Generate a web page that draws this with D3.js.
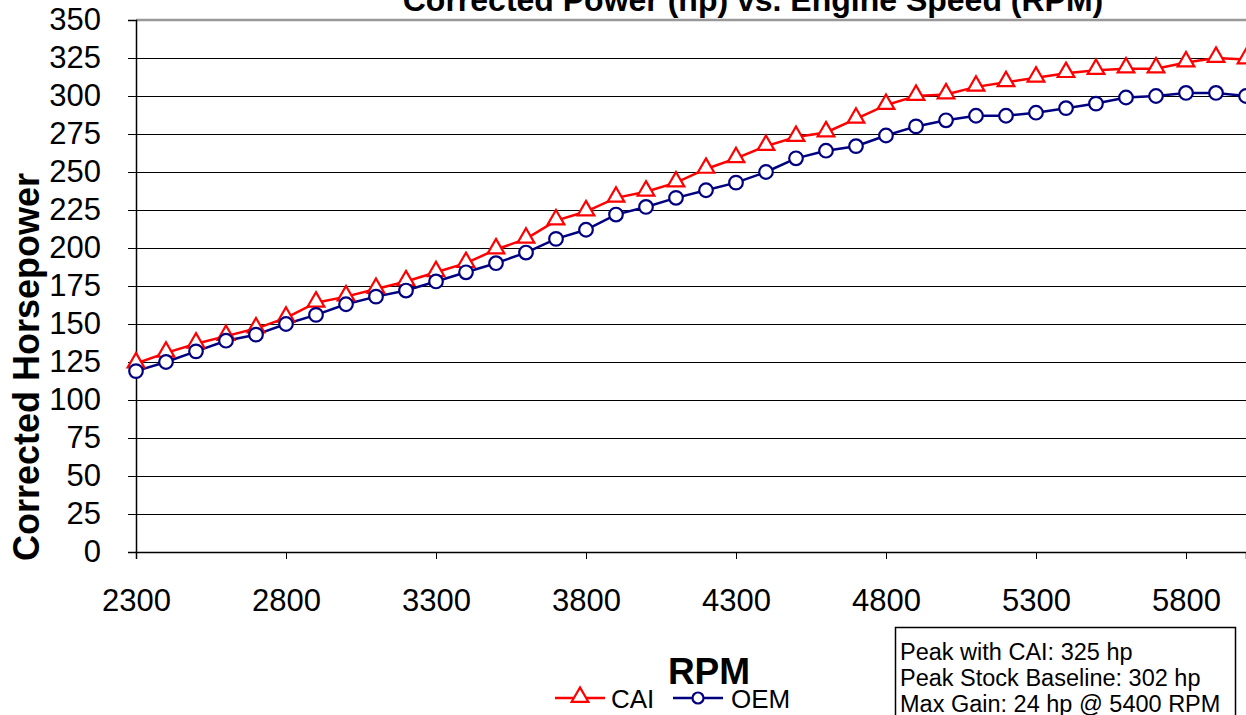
<!DOCTYPE html>
<html><head><meta charset="utf-8">
<script src="https://cdn.jsdelivr.net/npm/d3@7"></script>
<style>body{margin:0;background:#fff;} svg{display:block;font-family:"Liberation Sans",Arial,sans-serif;}</style>
</head><body>
<svg id="c" width="1246" height="715"></svg>
<script>
const rpm = [2300,2400,2500,2600,2700,2800,2900,3000,3100,3200,3300,3400,3500,3600,3700,3800,3900,4000,4100,4200,4300,4400,4500,4600,4700,4800,4900,5000,5100,5200,5300,5400,5500,5600,5700,5800,5900,6000];
const cai = [124,131,137,142,147,154,164,168,173,178,184,190,199,206,218,224,233,237,243,252,259,267,273,276,285,294,300,301,306,309,312,315,317,318,318,322,325,324];
const oem = [119,125,132,139,143,150,156,163,168,172,178,184,190,197,206,212,222,227,233,238,243,250,259,264,267,274,280,284,287,287,289,292,295,299,300,302,302,300];
const yTicks = d3.range(0,351,25);
const xTicks = [2300,2800,3300,3800,4300,4800,5300,5800];
const infoLines = ["Peak with CAI: 325 hp","Peak Stock Baseline: 302 hp","Max Gain: 24 hp @ 5400 RPM"];

const svg = d3.select("#c");
const L=136, R=1246, T=20, B=552;
const x = d3.scaleLinear().domain([2300,6000]).range([L,R]);
const y = d3.scaleLinear().domain([0,350]).range([B,T]);

// grid
svg.append("g").selectAll("line").data(yTicks.filter(v=>v>0&&v<350)).join("line")
  .attr("x1",L).attr("x2",R).attr("y1",d=>y(d)).attr("y2",d=>y(d))
  .attr("stroke","#000").attr("stroke-width",1).attr("shape-rendering","crispEdges");
svg.append("line").attr("x1",L).attr("x2",R).attr("y1",T).attr("y2",T).attr("stroke","#999").attr("stroke-width",2.5);

// y axis
const ya = svg.append("g").attr("transform",`translate(${L},0)`)
  .call(d3.axisLeft(y).tickValues(yTicks).tickSize(8).tickPadding(27));
ya.select(".domain").attr("stroke","#000").attr("stroke-width",1.5);
ya.selectAll("line").attr("shape-rendering","crispEdges");
ya.selectAll("text").attr("font-size",31).attr("fill","#000").attr("font-family","Liberation Sans, Arial");
// x axis
const xa = svg.append("g").attr("transform",`translate(0,${B})`)
  .call(d3.axisBottom(x).tickValues(xTicks).tickSize(7).tickPadding(30).tickFormat(d3.format("d")));
xa.select(".domain").attr("stroke","#000").attr("stroke-width",1.5);
xa.selectAll("line").attr("shape-rendering","crispEdges");
xa.selectAll("text").attr("font-size",31).attr("fill","#000").attr("font-family","Liberation Sans, Arial");

// lines
const line = d3.line().x((d,i)=>x(rpm[i])).y(d=>y(d));
svg.append("path").datum(cai).attr("d",line).attr("fill","none").attr("stroke","#ff0000").attr("stroke-width",2.5);
svg.append("path").datum(oem).attr("d",line).attr("fill","none").attr("stroke","#000080").attr("stroke-width",2.5);

const tri = d3.symbol().type(d3.symbolTriangle).size(120);
svg.append("g").selectAll("path").data(cai).join("path")
  .attr("d",tri).attr("transform",(d,i)=>`translate(${x(rpm[i])},${y(d)-1})`)
  .attr("fill","#fff").attr("stroke","#ff0000").attr("stroke-width",2.2);
svg.append("g").selectAll("circle").data(oem).join("circle")
  .attr("cx",(d,i)=>x(rpm[i])).attr("cy",d=>y(d)).attr("r",6.8)
  .attr("fill","#fff").attr("stroke","#000080").attr("stroke-width",2.2);

// titles
svg.append("text").attr("x",753).attr("y",11).attr("text-anchor","middle")
  .attr("font-size",32).attr("font-weight","bold").text("Corrected Power (hp) vs. Engine Speed (RPM)");
svg.append("text").attr("transform","translate(39,367) rotate(-90)").attr("text-anchor","middle")
  .attr("font-size",36).attr("font-weight","bold").text("Corrected Horsepower");
svg.append("text").attr("x",709).attr("y",684).attr("text-anchor","middle")
  .attr("font-size",37).attr("font-weight","bold").text("RPM");

// legend
const lg = svg.append("g").attr("transform","translate(0,698)");
lg.append("line").attr("x1",555).attr("x2",605).attr("stroke","#ff0000").attr("stroke-width",2.5);
lg.append("path").attr("d",tri).attr("transform","translate(580,-1)").attr("fill","#fff").attr("stroke","#ff0000").attr("stroke-width",2.2);
lg.append("text").attr("x",611).attr("y",10).attr("font-size",26).text("CAI");
lg.append("line").attr("x1",673).attr("x2",723).attr("stroke","#000080").attr("stroke-width",2.5);
lg.append("circle").attr("cx",698).attr("cy",0).attr("r",5.5).attr("fill","#fff").attr("stroke","#000080").attr("stroke-width",2.2);
lg.append("text").attr("x",731).attr("y",10).attr("font-size",26).text("OEM");

// info box
svg.append("rect").attr("x",895.5).attr("y",627.5).attr("width",340).attr("height",100).attr("fill","#fff").attr("stroke","#000").attr("stroke-width",1.5);
svg.append("g").selectAll("text").data(infoLines).join("text")
  .attr("x",900).attr("y",(d,i)=>660+i*26).attr("font-size",23.5).text(d=>d);
</script>
</body></html>
